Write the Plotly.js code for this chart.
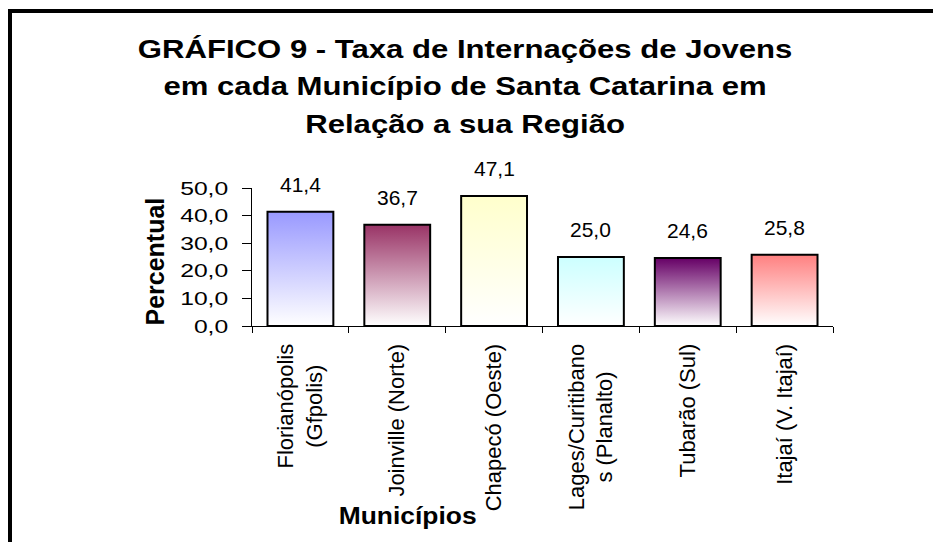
<!DOCTYPE html>
<html>
<head>
<meta charset="utf-8">
<script src="https://cdn.plot.ly/plotly-3.0.1.min.js"></script>
<style>
html,body{margin:0;padding:0;background:#fff;overflow:hidden;width:933px;height:542px;}
#chart{position:absolute;left:0;top:0;width:933px;height:542px;}
#frame{position:absolute;left:8px;top:9px;width:2000px;height:2000px;border-left:4px solid #000;border-top:4px solid #000;pointer-events:none;}
</style>
</head>
<body>
<div id="chart"></div>
<div id="frame"></div>
<script>
// ---- data ----
const categories = ['Florianópolis<br>(Gfpolis)', 'Joinville (Norte)', 'Chapecó (Oeste)', 'Lages/Curitibano<br>s (Planalto)', 'Tubarão (Sul)', 'Itajaí (V. Itajaí)'];
const values = [41.4, 36.7, 47.1, 25.0, 24.6, 25.8];
const barColors = ['#9999FF', '#993366', '#FFFFCC', '#CCFFFF', '#660066', '#FF8080'];
const yTickValues = [0, 10, 20, 30, 40, 50];
const titleLines = ['GRÁFICO 9 - Taxa de Internações de Jovens', 'em cada Município de Santa Catarina em', 'Relação a sua Região'];
const yTitle = 'Percentual';
const xTitle = 'Municípios';

const FONT = 'Liberation Sans, Arial, Helvetica, sans-serif';

const trace = {
  type: 'bar',
  x: categories,
  y: values,
  marker: { color: barColors, line: { color: '#000', width: 2 } },
  hoverinfo: 'none'
};

const dataLabels = categories.map((c, i) => ({
  x: c, y: values[i], xref: 'x', yref: 'y',
  text: values[i].toFixed(1).replace('.', ','),
  showarrow: false, yshift: 27,
  font: { family: FONT, size: 20, color: '#000' }
}));

const axisTitles = [
  { text: yTitle, xref: 'paper', yref: 'paper', x: -0.167, y: 0.467, textangle: -90,
    showarrow: false, xanchor: 'center', yanchor: 'middle',
    font: { family: FONT, size: 25, color: '#000', weight: 'bold' } },
  { text: xTitle, xref: 'paper', yref: 'paper', x: 0.2668, y: -1.37,
    showarrow: false, xanchor: 'center', yanchor: 'middle',
    font: { family: FONT, size: 24, color: '#000', weight: 'bold' } }
];

const layout = {
  width: 933, height: 542,
  margin: { l: 252, r: 100, t: 188, b: 216, pad: 0 },
  paper_bgcolor: 'rgba(0,0,0,0)', plot_bgcolor: 'rgba(0,0,0,0)',
  separators: ',.',
  font: { family: FONT, color: '#000' },
  showlegend: false,
  bargap: 0.32,
  title: {
    text: titleLines.join('<br>'),
    font: { family: FONT, size: 25.5, color: '#000', weight: 'bold' },
    xref: 'container', x: 0.4985, xanchor: 'center',
    yref: 'container', y: 1 - 58 / 542, yanchor: 'top'
  },
  xaxis: {
    type: 'category', showline: true, linecolor: '#000', linewidth: 1,
    ticks: 'outside', tickson: 'boundaries', ticklen: 6, tickcolor: '#000', tickwidth: 1,
    tickangle: -90, tickfont: { family: FONT, size: 22, color: '#000' },
    ticklabelstandoff: 8, showgrid: false, zeroline: false, fixedrange: true
  },
  yaxis: {
    range: [0, 50], tickvals: yTickValues, tickformat: '.1f',
    showline: true, linecolor: '#000', linewidth: 1,
    ticks: 'outside', ticklen: 9, tickcolor: '#000', tickwidth: 1,
    tickfont: { family: FONT, size: 19, color: '#000' },
    ticklabelstandoff: 10, showgrid: false, zeroline: false, fixedrange: true
  },
  annotations: dataLabels.concat(axisTitles)
};

function stretch(el, sx, mode) {
  const r = el.getBoundingClientRect();
  const p = el.parentNode.getScreenCTM();
  const ax = mode === 'end' ? r.right : (mode === 'start' ? r.left : (r.left + r.right) / 2);
  const lx = (ax - p.e) / p.a;
  const old = el.getAttribute('transform') || '';
  el.setAttribute('transform', 'translate(' + lx + ',0) scale(' + sx + ',1) translate(' + (-lx) + ',0) ' + old);
}

const gd = document.getElementById('chart');
Plotly.newPlot(gd, [trace], layout, { displayModeBar: false, staticPlot: true }).then(function () {
  // gradient fills (colour at top fading to white at the bottom)
  const svg = gd.querySelector('svg.main-svg');
  let defs = svg.querySelector('defs');
  if (!defs) { defs = document.createElementNS('http://www.w3.org/2000/svg', 'defs'); svg.insertBefore(defs, svg.firstChild); }
  barColors.forEach(function (c, i) {
    const g = document.createElementNS('http://www.w3.org/2000/svg', 'linearGradient');
    g.setAttribute('id', 'barGrad' + i);
    g.setAttribute('x1', '0'); g.setAttribute('y1', '0'); g.setAttribute('x2', '0'); g.setAttribute('y2', '1');
    [[0, c], [1, '#FFFFFF']].forEach(function (s) {
      const st = document.createElementNS('http://www.w3.org/2000/svg', 'stop');
      st.setAttribute('offset', s[0]); st.setAttribute('stop-color', s[1]);
      g.appendChild(st);
    });
    defs.appendChild(g);
  });
  gd.querySelectorAll('.trace.bars .point path').forEach(function (p, i) {
    p.style.setProperty('fill', 'url(#barGrad' + i + ')');
    p.style.setProperty('fill-opacity', '1');
  });
  // centre the lines of two-line category labels
  gd.querySelectorAll('.xtick text').forEach(function (t) {
    const lines = t.querySelectorAll('tspan.line');
    if (lines.length < 2 || t.getAttribute('text-anchor') !== 'end') return;
    let M = 0;
    lines.forEach(function (l) { M = Math.max(M, l.getComputedTextLength()); });
    t.setAttribute('text-anchor', 'middle');
    lines.forEach(function (l) { l.setAttribute('x', parseFloat(l.getAttribute('x')) - M / 2); });
  });
  // title line spacing
  gd.querySelectorAll('.gtitle tspan.line').forEach(function (t, i) { t.setAttribute('dy', (i * 1.47) + 'em'); });
  // horizontal text widening as in the reference
  gd.querySelectorAll('.gtitle').forEach(function (t) { stretch(t, 1.22, 'middle'); });
  gd.querySelectorAll('.ytick text').forEach(function (t) { stretch(t, 1.3, 'end'); });
  gd.querySelectorAll('g.annotation').forEach(function (a) {
    const idx = +a.getAttribute('data-index');
    const t = a.querySelector('text.annotation-text');
    if (!t) return;
    if (idx < values.length) stretch(t, 1.05, 'middle');
    else if (idx === values.length + 1) stretch(t, 1.1, 'middle');
  });
});
</script>
</body>
</html>
